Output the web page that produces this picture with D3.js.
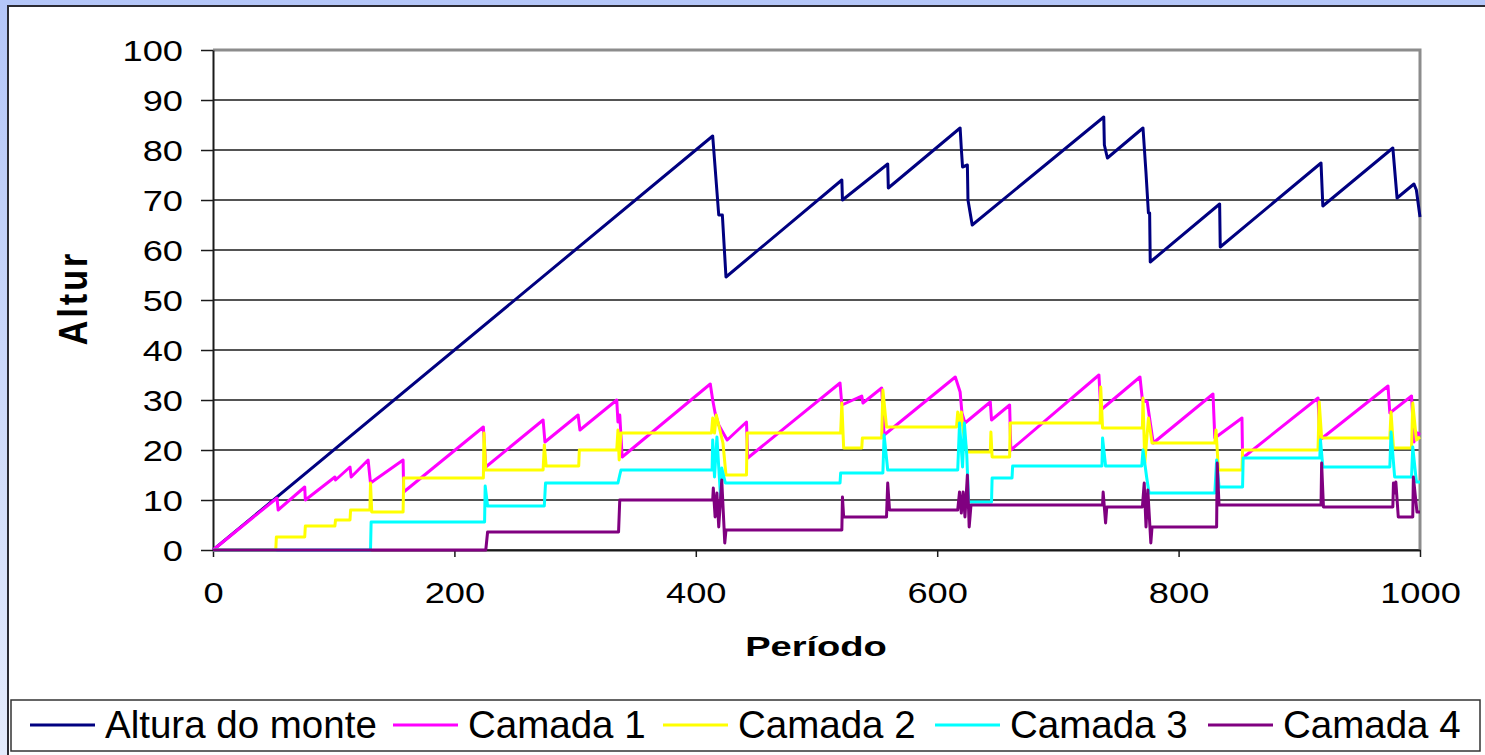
<!DOCTYPE html>
<html>
<head>
<meta charset="utf-8">
<script src="https://cdn.jsdelivr.net/npm/d3@7"></script>
<style>
  body { margin: 0; background: #fff; }
  text { font-family: "Liberation Sans", Arial, sans-serif; fill: #000; }
</style>
</head>
<body>
<div id="container"></div>
<script>
// series: [período, altura]
const altura = [[0,0],[414,82.8],[419,67],[422,67],[425,54.6],[521,74],[521.5,70],[559,77.2],[559.5,72.4],
  [619,84.4],[620,80.2],[621,76.6],[625,77],[625.5,70],[629,65],[738,86.6],[738.5,81],[741,78.4],
  [770.5,84.4],[773,75.4],[775,67.4],[776,67.4],[776.5,57.6],[834,69.2],[834.5,60.6],[918,77.4],
  [919.5,68.8],[977.5,80.4],[981,70.4],[995,73.2],[997,72],[1000,66.6]];

const camada1 = [[0,0],[53,10.4],[54,8],[76,12.6],[76.5,10],[101,14.6],[101.5,14],[113.5,16.6],[114.5,14.6],
  [128.5,18],[130.5,13.4],[157.5,18],[158,11.6],[224,24.6],[226,16.6],[273.5,26],[275,21.6],[302.5,27],
  [304,24],[334.5,30],[335.5,25.6],[337,27],[339,18.6],[412,33.2],[414,30],[416,27.4],[419,25],[426,22],
  [442,25.6],[443,18.4],[519.5,33.4],[521,29],[537.5,30.8],[538.5,29.4],[554,32.4],[556,23],[615,34.6],
  [619,31.6],[620.5,27.4],[623,25.4],[644,29.6],[645,26],[660,29],[661,20],[734,35],[735.5,28],
  [768,34.6],[770,30],[774,29.6],[779,21.4],[828.5,31.2],[830,22.4],[852.5,26.4],[853,18.4],[915.5,30.4],
  [917,22],[973.5,32.8],[975,27.4],[993,30.8],[995,21.6],[998,23.4],[1000,23]];

const camada2 = [[0,0],[52,0],[52.5,2.6],[76,2.6],[76.5,4.8],[101,4.8],[101.5,6],[113.5,6],[114,8],[130,8],
  [130.5,13.4],[131.5,7.6],[157.5,7.6],[158,14.4],[224,14.4],[224.5,23.4],[226,16],[273.5,16],[274.5,21],
  [276,16.8],[303,16.8],[303.5,20],[334.5,20],[335.5,24],[336.5,18],[338,23.4],[413,23.4],[414,26.4],
  [415.5,23.4],[417,27],[422.5,21.4],[425,15],[442,15],[442.5,23.4],[520,23.4],[521,29.4],[522.5,20.4],
  [537.5,20.4],[538,22.4],[554,22.4],[555,32],[558,24.6],[616,24.6],[617,27.6],[618.5,24.6],[620,27.6],
  [621.5,24],[624.5,19.6],[644,19.6],[644.5,23.6],[645.5,18.6],[660,18.6],[660.5,25.4],[735,25.4],
  [735.5,32.6],[737,24.4],[770,24.4],[770.5,30.4],[772,17.4],[775,26.4],[778,21.4],[830,21.4],[831,24],
  [833,16],[852.5,16],[853,20],[915.5,20],[916.5,29.6],[918.5,22.4],[975,22.4],[976,27.6],[978,20.4],
  [993,20.4],[994,29.4],[997,22],[1000,22.6]];

const camada3 = [[0,0],[130.5,0],[131,5.6],[225,5.6],[225.5,12.8],[227.5,8.8],[274.5,8.8],[275.5,13.4],
  [335.5,13.4],[337,15],[338,16],[413.5,16],[414,22],[415.5,14.6],[417.5,22.6],[420.5,10.6],[421.5,16.4],
  [424.5,13.4],[519.5,13.4],[520,15.4],[555,15.4],[556,23],[559,16],[617,16],[618.5,25.4],[621,16.6],
  [622.5,25.4],[624.5,19],[626,9.6],[645,9.6],[645.5,14.4],[662,14.4],[662.5,16.8],[736.5,16.8],
  [737,22.4],[739.5,16.8],[769.5,16.8],[770.5,20],[773.5,14.6],[775.5,11.4],[830,11.4],[831.5,18],
  [833.5,12.6],[853,12.6],[853.5,18.4],[917,18.4],[917.5,22],[919.5,16.6],[975,16.6],[976,23.6],
  [979,14.6],[993,14.6],[994,20.6],[997,13.6],[1000,13.6]];

const camada4 = [[0,0],[226,0],[227.5,3.6],[336,3.6],[337,10],[414,10],[414.5,12.4],[416,6.6],[417.5,11.4],
  [419,4.6],[421.5,14],[424,1.4],[425,4],[521,4],[521.5,10.6],[522.5,6.6],[558,6.6],[559,13.4],[560.5,8],
  [617,8],[618.5,11.6],[620,7.4],[621.5,11.6],[623,6.6],[625,15],[626.5,4.6],[628,9],[737,9],[737.5,11.6],
  [739.5,5.4],[740.5,8.6],[770,8.6],[771.5,13.4],[773,4.6],[774.5,12],[777,1.4],[778,4.6],[831.5,4.6],
  [832,17.4],[833.5,9],[918,9],[918.5,17.4],[920,8.6],[977.5,8.6],[978,13.4],[979,11.4],[980,13.6],
  [982,6.6],[994,6.6],[994.5,14.6],[997.5,7.6],[1000,7.6]];

const seriesNames = ["Altura do monte", "Camada 1", "Camada 2", "Camada 3", "Camada 4"];
const seriesColors = ["#000080", "#FF00FF", "#FFFF00", "#00FFFF", "#800080"];
const seriesData = [altura, camada1, camada2, camada3, camada4];

const yTicks = d3.range(0, 101, 10);
const xTicks = [0, 200, 400, 600, 800, 1000];

const WIDTH = 1485, HEIGHT = 755;
const plot = { left: 213, right: 1420, top: 50, bottom: 550 };
const stretch = 1.25; // axis text in the original is drawn wide

const svg = d3.select('#container').append('svg')
    .attr("width", WIDTH).attr("height", HEIGHT);

// blue frame behind the white chart panel
const grad = svg.append("defs").append("linearGradient")
    .attr("id", "frame").attr("x1", 0).attr("y1", 0).attr("x2", 0).attr("y2", 1);
grad.append("stop").attr("offset", "0%").attr("stop-color", "#b4c6f8");
grad.append("stop").attr("offset", "100%").attr("stop-color", "#e4ebfc");

svg.append("rect").attr("width", WIDTH).attr("height", HEIGHT).attr("fill", "url(#frame)");
svg.append("rect")
    .attr("x", 8).attr("y", 6).attr("width", WIDTH).attr("height", HEIGHT)
    .attr("fill", "#fff").attr("stroke", "#2b2b33").attr("stroke-width", 2);

const xScale = d3.scaleLinear().domain([0, 1000]).range([plot.left, plot.right]);
const yScale = d3.scaleLinear().domain([0, 100]).range([plot.bottom, plot.top]);

// gridlines
svg.append("g")
    .selectAll("line")
    .data(yTicks.filter(d => d < 100))
    .join("line")
    .attr("x1", plot.left).attr("x2", plot.right)
    .attr("y1", d => yScale(d)).attr("y2", d => yScale(d))
    .attr("stroke", "#1a1a1a").attr("stroke-width", 1.5);

// plot area border (top + right, grey)
svg.append("path")
    .attr("d", `M${plot.left},${yScale(100)}H${xScale(1000)}V${plot.bottom}`)
    .attr("fill", "none").attr("stroke", "#8c8c8c").attr("stroke-width", 3);

// axes
const yAxis = d3.axisLeft(yScale).tickValues(yTicks).tickSize(12).tickSizeOuter(0);
const gy = svg.append("g").attr("transform", `translate(${plot.left},0)`).call(yAxis);
gy.select(".domain").attr("stroke", "#1a1a1a").attr("stroke-width", 2);
gy.selectAll(".tick line").attr("stroke", "#1a1a1a").attr("stroke-width", 1.5);
gy.selectAll(".tick text")
    .attr("x", -30 / stretch)
    .attr("dy", "0.36em")
    .attr("transform", `scale(${stretch},1)`)
    .style("font-size", "29px");

const xAxis = d3.axisBottom(xScale).tickValues(xTicks).tickSize(7).tickSizeOuter(0).tickFormat(d3.format("d"));
const gx = svg.append("g").attr("transform", `translate(0,${plot.bottom})`).call(xAxis);
gx.select(".domain").attr("stroke", "#1a1a1a").attr("stroke-width", 2);
gx.selectAll(".tick text")
    .attr("y", 32)
    .attr("transform", `scale(${stretch},1)`)
    .style("font-size", "29px");
gx.selectAll(".tick line").attr("stroke", "#1a1a1a").attr("stroke-width", 1.5);

// lines
const line = d3.line().x(d => xScale(d[0])).y(d => yScale(d[1]));
svg.append("g")
    .selectAll("path")
    .data(seriesData)
    .join("path")
    .attr("d", line)
    .attr("fill", "none")
    .attr("stroke", (d, i) => seriesColors[i])
    .attr("stroke-width", 3)
    .attr("stroke-linejoin", "round");

// axis titles
svg.append("text")
    .attr("transform", `translate(816,656) scale(1.36,1)`)
    .attr("text-anchor", "middle")
    .style("font-size", "28px").style("font-weight", "bold")
    .text("Período");

svg.append("text")
    .attr("transform", "translate(87,298) rotate(-90) scale(1,1.2)")
    .attr("text-anchor", "middle")
    .style("font-size", "34px").style("font-weight", "bold")
    .style("letter-spacing", "3px")
    .text("Altur");

// legend
const legendX = [30, 393, 663, 935, 1208];
const legend = svg.append("g");
legend.append("rect")
    .attr("x", 11).attr("y", 700).attr("width", 1469).attr("height", 51)
    .attr("fill", "#fff").attr("stroke", "#333").attr("stroke-width", 1.5);

seriesNames.forEach((name, i) => {
    legend.append("line")
        .attr("x1", legendX[i]).attr("x2", legendX[i] + 65)
        .attr("y1", 725).attr("y2", 725)
        .attr("stroke", seriesColors[i]).attr("stroke-width", 3);
    legend.append("text")
        .attr("x", legendX[i] + 75).attr("y", 738)
        .style("font-size", "38.5px")
        .text(name);
});
</script>
</body>
</html>
